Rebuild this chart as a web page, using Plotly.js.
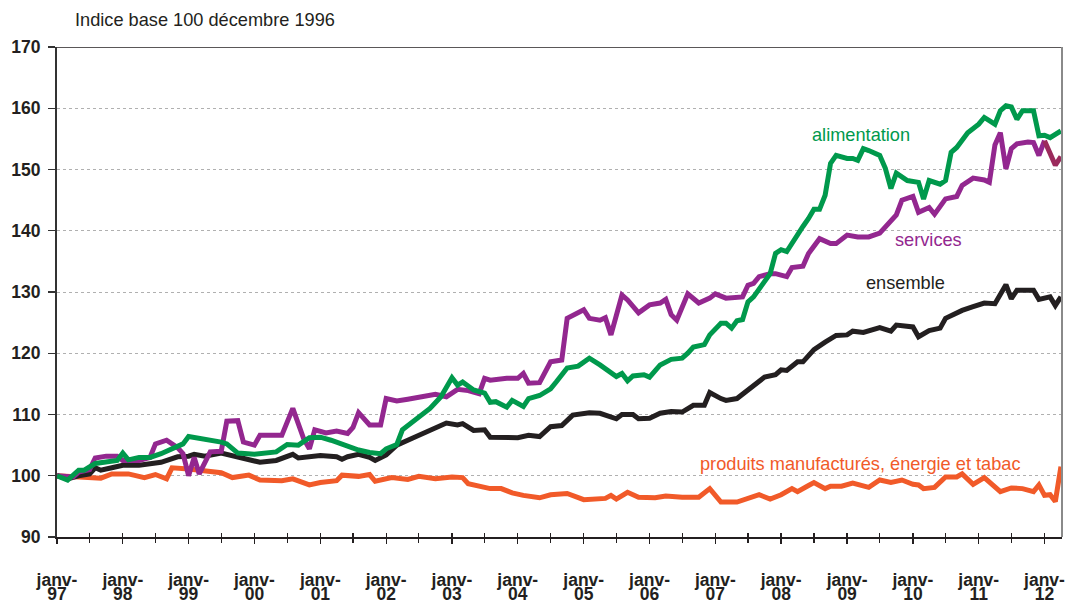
<!DOCTYPE html>
<html>
<head>
<meta charset="utf-8">
<script src="https://cdn.plot.ly/plotly-3.0.1.min.js"></script>
<style>html,body{margin:0;padding:0;background:#fff;}#chart{width:1070px;height:604px;}</style>
</head>
<body>
<div id="chart"></div>
<script>
// Month index 0 = janvier 1997 ; each pair is [month index, indice]
const alimentation = [[0,100],[2,99.3],[4,100.9],[5,100.9],[7,102],[9,102.2],[11,102.5],[12,103.7],[13,102.6],[15,103],[17,103],[19,103.6],[21,104.4],[23,105.2],[24,106.4],[26,106.1],[28,105.9],[30,105.5],[31,105.2],[33,103.7],[36,103.5],[38,103.6],[40,103.9],[42,105.1],[44,105],[46,106.2],[48,106.3],[50,105.8],[52,105.1],[55,104.2],[57,103.8],[59,103.6],[60,104.4],[62,105.1],[63,107.5],[66,109.6],[68,111],[70,112.9],[72,116],[73,114.8],[74,115.3],[76,114],[78,113.5],[79,112],[80,112.1],[82,111.2],[83,112.3],[85,111.3],[86,112.6],[88,113.1],[90,114.2],[91,115.3],[93,117.6],[95,117.9],[96,118.6],[97,119.2],[99,118.1],[100,117.5],[102,116.2],[103,116.7],[104,115.5],[105,116.3],[107,116.5],[108,116.1],[110,118.1],[112,119],[114,119.2],[115,120],[116,121],[118,121.4],[119,123],[121,124.9],[122,124.9],[123,124.1],[124,125.3],[125,125.5],[126,128.4],[127,129.2],[128,130.6],[130,133],[131,136.3],[132,136.9],[133,136.6],[135,139.1],[136,140.7],[137,142],[138,143.5],[139,143.5],[140,145.8],[141,151],[142,152.3],[144,151.8],[145,151.8],[146,151.5],[147,153.4],[148,153.1],[150,152.3],[151,150.2],[152,146.9],[153,149.4],[155,148.2],[157,147.9],[158,145.2],[159,148.2],[161,147.6],[162,148.2],[163,152.8],[164,153.6],[166,156],[168,157.4],[169,158.5],[171,157.4],[172,159.6],[173,160.4],[174,160.2],[175,158.2],[176,159.6],[178,159.6],[179,155.5],[180,155.6],[181,155.2],[183,156.3]];

const services = [[0,100],[3,99.8],[4,100.6],[6,101],[7,102.9],[9,103.2],[11,103.2],[12,102.5],[15,102.5],[17,103],[18,105.2],[20,105.8],[22,104.6],[23,103.6],[24,100],[25,103],[26,100.3],[28,103.9],[30,104],[31,108.9],[33,109],[34,105.5],[36,105],[37,106.6],[41,106.6],[43,111],[45,106],[46,104.4],[47,107.5],[49,107],[51,107.3],[53,106.9],[54,107.9],[55,110.3],[57,108.3],[59,108.3],[60,112.6],[62,112.2],[64,112.5],[66,112.9],[69,113.3],[71,112.9],[73,114.1],[75,113.9],[77,113.4],[78,115.9],[79,115.6],[82,115.9],[84,115.9],[85,116.7],[86,115.1],[88,115.2],[90,118.6],[92,118.9],[93,125.7],[96,127.1],[97,125.7],[99,125.4],[100,125.8],[101,123],[102,126.5],[103,129.5],[104,128.7],[106,126.6],[108,127.9],[110,128.2],[111,128.8],[112,126.3],[113,125.4],[114,127.7],[115,129.7],[117,128.2],[119,129],[120,129.7],[122,129],[125,129.2],[126,131.1],[127,131.4],[128,132.5],[130,133],[131,133],[133,132.5],[134,134],[136,134.2],[137,136.3],[139,138.7],[141,137.9],[142,137.9],[144,139.3],[146,139],[148,139],[150,139.6],[151,140.7],[153,142.6],[154,145],[156,145.6],[157,143],[159,143.8],[160,142.7],[162,145.2],[164,145.6],[165,147.4],[167,148.6],[169,148.3],[170,147.9],[171,154],[172,156],[173,150.1],[174,153.4],[175,154.2],[177,154.5],[178,154.4],[179,152.3],[180,154.7]];

const servicesFin = [[180,154.7],[181,152.5],[182,150.7],[183,152.1]];

const ensemble = [[0,100],[2,99.5],[4,100],[6,100.3],[7,101.3],[8,100.9],[10,101.3],[12,101.7],[15,101.7],[19,102.2],[22,103.1],[24,103.2],[25,103.5],[27,103.2],[30,103.7],[32,103.3],[34,102.7],[37,102.2],[40,102.5],[43,103.5],[44,102.9],[46,103],[48,103.3],[51,103.1],[52,102.7],[53,103.1],[55,103.5],[57,103],[58,102.5],[60,103.4],[62,105],[65,106.2],[68,107.4],[71,108.6],[73,108.3],[74,108.5],[76,107.4],[78,107.5],[79,106.3],[84,106.2],[86,106.6],[88,106.4],[90,108],[92,108.2],[94,109.9],[97,110.3],[99,110.2],[102,109.3],[103,110],[105,110],[106,109.3],[108,109.4],[110,110.2],[112,110.5],[114,110.4],[116,111.5],[118,111.5],[119,113.6],[121,112.6],[122,112.3],[124,112.6],[126,114.1],[127,114.6],[129,116.1],[131,116.5],[132,117.3],[133,117.2],[135,118.6],[136,118.6],[138,120.6],[140,121.8],[142,122.9],[144,123],[145,123.6],[147,123.4],[149,123.8],[150,124.2],[152,123.6],[153,124.6],[156,124.3],[157,122.7],[159,123.7],[161,124.1],[162,125.7],[165,127],[167,127.6],[169,128.2],[171,128.1],[173,131.2],[174,128.9],[175,130.3],[178,130.3],[179,128.8],[181,129.2],[182,127.8],[183,129.2]];

const produits = [[0,100],[4,99.8],[8,99.6],[10,100.3],[13,100.3],[16,99.7],[18,100.2],[20,99.5],[21,101.3],[24,101.1],[27,100.7],[30,100.5],[32,99.7],[35,100.1],[37,99.3],[41,99.2],[43,99.5],[46,98.5],[48,98.9],[51,99.2],[52,100.1],[55,99.9],[57,100.2],[58,99.1],[61,99.7],[64,99.4],[66,99.9],[69,99.5],[72,99.8],[74,99.7],[75,98.7],[79,97.9],[81,97.9],[83,97.2],[85,96.8],[88,96.4],[90,96.9],[93,97.1],[96,96.1],[100,96.3],[101,96.8],[102,96.2],[104,97.3],[106,96.5],[109,96.4],[111,96.7],[114,96.5],[117,96.5],[119,97.9],[121,95.7],[124,95.7],[126,96.4],[128,96.9],[130,96.2],[132,96.9],[134,97.9],[135,97.4],[137,98.4],[138,98.9],[140,97.9],[141,98.3],[143,98.3],[145,98.8],[148,98.1],[150,99.3],[152,98.9],[154,99.3],[156,98.6],[157,98.5],[158,97.9],[160,98.1],[162,99.8],[164,99.8],[165,100.3],[167,98.6],[169,99.7],[171,98],[172,97.4],[174,98],[176,97.9],[178,97.4],[179,98.5],[180,96.8],[181,96.9],[182,95.8],[183,101.5]];

const tickYears = ['97','98','99','00','01','02','03','04','05','06','07','08','09','10','11','12'];
const yTicks = [90,100,110,120,130,140,150,160,170];

function monthToDate(m){
  const y = 1997 + Math.floor(m/12);
  const mo = (m % 12) + 1;
  return y + '-' + String(mo).padStart(2,'0') + '-01';
}
function line(series, color, name){
  return {
    x: series.map(p => monthToDate(p[0])),
    y: series.map(p => p[1]),
    type: 'scatter', mode: 'lines', name: name,
    line: {color: color, width: 5, shape: 'linear'},
    hoverinfo: 'x+y', showlegend: false
  };
}

const FONT = 'Liberation Sans, Arial, Helvetica, sans-serif';
const GREEN = '#00994c', PURPLE = '#93278f', MAROON = '#9b2a5c', BLACK = '#231f20', ORANGE = '#f15a29';

const janvDates = tickYears.map((t,i) => (1997+i) + '-01-01');
const allTickDates = [];
tickYears.forEach((t,i) => { allTickDates.push((1997+i)+'-01-01'); if (i < tickYears.length-1) allTickDates.push((1997+i)+'-07-01'); });
const xRange = ['1997-01-01', '2012-04-07'];

const traces = [
  line(produits, ORANGE, 'produits manufacturés, énergie et tabac'),
  line(ensemble, BLACK, 'ensemble'),
  line(services, PURPLE, 'services'),
  line(servicesFin, MAROON, 'services'),
  line(alimentation, GREEN, 'alimentation'),
  {x:[xRange[0]], y:[null], xaxis:'x2', type:'scatter', mode:'lines', showlegend:false, hoverinfo:'skip'},
  {x:[xRange[0]], y:[null], xaxis:'x3', type:'scatter', mode:'lines', showlegend:false, hoverinfo:'skip'}
];

const tickFont = {family: FONT, size: 17.5, color: BLACK, weight: 'bold'};
const LABEL_SIZE = 18.2;

const layout = {
  width: 1070, height: 604,
  margin: {l: 57, r: 8, t: 47, b: 67},
  paper_bgcolor: '#fff', plot_bgcolor: '#fff',
  title: {text: 'Indice base 100 décembre 1996', font: {family: FONT, size: LABEL_SIZE, color: BLACK},
          x: 75/1070, xanchor: 'left', xref: 'container', y: 1 - 20/604, yanchor: 'middle', yref: 'container'},
  xaxis: {
    type: 'date', range: xRange, fixedrange: true,
    tickmode: 'array', tickvals: janvDates, ticktext: tickYears.map(() => 'janv-'),
    ticks: 'outside', ticklen: 5, tickwidth: 1.3, tickcolor: BLACK,
    showline: true, linecolor: BLACK, linewidth: 1.5,
    showgrid: false, zeroline: false, tickfont: tickFont, ticklabelstandoff: 21
  },
  xaxis2: {
    type: 'date', range: xRange, overlaying: 'x', anchor: 'y', side: 'bottom',
    tickmode: 'array', tickvals: allTickDates, showticklabels: false,
    ticks: 'inside', ticklen: 4, tickwidth: 1.3, tickcolor: BLACK,
    showline: false, showgrid: false, zeroline: false
  },
  xaxis3: {
    type: 'date', range: xRange, overlaying: 'x', anchor: 'y', side: 'bottom',
    tickmode: 'array', tickvals: allTickDates, ticktext: allTickDates.map(d => d.slice(5,7) === '01' ? tickYears[+d.slice(0,4) - 1997] : ''),
    ticks: 'outside', ticklen: 5, tickwidth: 1.3, tickcolor: BLACK,
    showline: false, showgrid: false, zeroline: false, tickfont: tickFont, ticklabelstandoff: 36
  },
  yaxis: {
    range: [90, 170], tickmode: 'array', tickvals: yTicks, fixedrange: true,
    ticks: 'outside', ticklen: 7, tickwidth: 1.3, tickcolor: '#333',
    showline: true, linecolor: '#333', linewidth: 2,
    showgrid: true, gridcolor: '#b0b0b0', griddash: 'dot', gridwidth: 1,
    zeroline: false, tickfont: tickFont, ticklabelstandoff: 4
  },
  shapes: [
    {type: 'line', xref: 'paper', yref: 'y', x0: 0, x1: 1, y0: 170, y1: 170, line: {color: BLACK, width: 1.5}},
    {type: 'line', xref: 'paper', yref: 'paper', x0: 1, x1: 1, y0: 0, y1: 1, line: {color: '#8a8a8a', width: 2}}
  ],
  annotations: [
    {text: 'alimentation', xref: 'paper', yref: 'paper', x: (861-57)/1005, y: (537-135)/490, xanchor: 'center', yanchor: 'middle', showarrow: false, font: {family: FONT, size: LABEL_SIZE, color: GREEN}},
    {text: 'services', xref: 'paper', yref: 'paper', x: (928-57)/1005, y: (537-240)/490, xanchor: 'center', yanchor: 'middle', showarrow: false, font: {family: FONT, size: LABEL_SIZE, color: PURPLE}},
    {text: 'ensemble', xref: 'paper', yref: 'paper', x: (905-57)/1005, y: (537-283)/490, xanchor: 'center', yanchor: 'middle', showarrow: false, font: {family: FONT, size: LABEL_SIZE, color: BLACK}},
    {text: 'produits manufacturés, énergie et tabac', xref: 'paper', yref: 'paper', x: (860-57)/1005, y: (537-464)/490, xanchor: 'center', yanchor: 'middle', showarrow: false, font: {family: FONT, size: LABEL_SIZE, color: ORANGE}}
  ]
};

Plotly.newPlot('chart', traces, layout, {displayModeBar: false, staticPlot: true});
</script>
</body>
</html>
